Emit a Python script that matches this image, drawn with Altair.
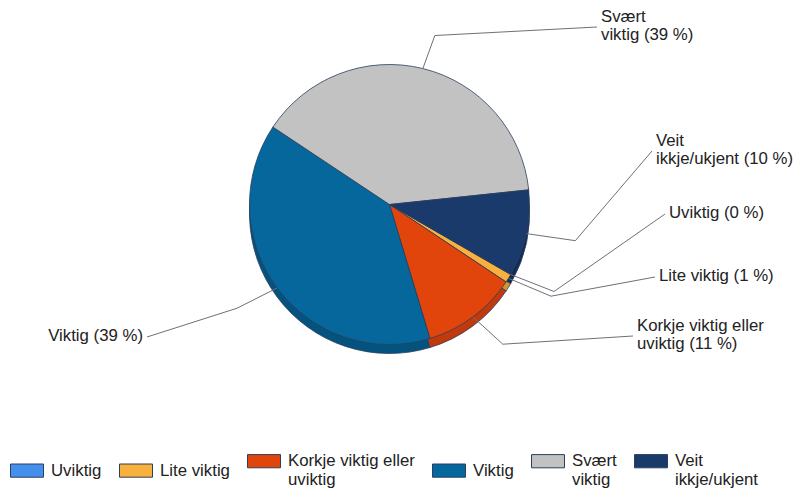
import altair as alt
import numpy as np
import pandas as pd

# ---- data (legend order) ----
categories = ["Uviktig", "Lite viktig", "Korkje viktig eller uviktig",
              "Viktig", "Svært viktig", "Veit ikkje/ukjent"]
percent = [0, 1, 11, 39, 39, 10]
legend_labels = ["Uviktig", "Lite viktig", "Korkje viktig eller\nuviktig",
                 "Viktig", "Svært\nviktig", "Veit\nikkje/ukjent"]
slice_labels = ["Uviktig (0 %)", "Lite viktig (1 %)",
                "Korkje viktig eller\nuviktig (11 %)", "Viktig (39 %)",
                "Svært\nviktig (39 %)", "Veit\nikkje/ukjent (10 %)"]

# ---- styles ----
colors = ["#4590ec", "#f8b13c", "#e2450c", "#05679b", "#c2c2c2", "#1a3a6c"]
side_colors = ["#3570c0", "#d4952c", "#c03a0c", "#04527e", "#9c9c9c", "#132c55"]

# ---- layout ----
CX, CY = 389.5, 204.5
R = 140
DEPTH = 9
START_DEG = 120.0
ELBOW_RX, ELBOW_RY = 190, 174
LINE_H = 18
label_anchor_x = [665, 655, 633, 147, 597, 652]
label_anchor_y = [214, 277, 336, 337, 27, 151]
label_side = ["right", "right", "right", "left", "right", "right"]

start_rad = np.deg2rad(START_DEG)

df = pd.DataFrame({
    "category": categories,
    "legend": legend_labels,
    "value": percent,
    "idx": list(range(len(categories))),
    "side": side_colors,
})

# leader lines computed from slice mid-angles
vals = np.array(percent, dtype=float)
cum = np.concatenate([[0.0], np.cumsum(vals)])
mid_deg = START_DEG + (cum[:-1] + vals / 2) * 360.0 / vals.sum()
rows = []
for i, cat in enumerate(categories):
    a = np.deg2rad(mid_deg[i])
    pts = [
        (CX + R * np.sin(a), CY - R * np.cos(a)),
        (CX + ELBOW_RX * np.sin(a), CY - ELBOW_RY * np.cos(a)),
        (label_anchor_x[i], label_anchor_y[i]),
    ]
    for k, (px, py) in enumerate(pts):
        rows.append({"name": cat, "k": k, "px": px, "py": py})
lines_df = pd.DataFrame(rows)

# first-line offset so that multi-line labels are centred on their anchor
nlines = [t.count("\n") + 1 for t in slice_labels]
labels_df = pd.DataFrame({
    "name": categories,
    "text": slice_labels,
    "lx": label_anchor_x,
    "ly": [y - 1 - (n - 1) * LINE_H / 2 for y, n in zip(label_anchor_y, nlines)],
    "lside": label_side,
})

theta_scale = alt.Scale(range=[start_rad, start_rad + 2 * np.pi])

side = alt.Chart(df).mark_arc(
    outerRadius=R, stroke="#2b3f5f", strokeWidth=0.8
).encode(
    theta=alt.Theta("value:Q", stack=True, scale=theta_scale),
    order=alt.Order("idx:Q"),
    fill=alt.Fill("side:N", scale=None),
    x=alt.value(CX), y=alt.value(CY + DEPTH),
)

top = alt.Chart(df).mark_arc(
    outerRadius=R, stroke="#2b3f5f", strokeWidth=0.8
).encode(
    theta=alt.Theta("value:Q", stack=True, scale=theta_scale),
    order=alt.Order("idx:Q"),
    fill=alt.Fill(
        "legend:N",
        scale=alt.Scale(domain=legend_labels, range=colors),
        sort=legend_labels,
        legend=alt.Legend(
            orient="none", legendX=10, legendY=444, direction="horizontal",
            title=None, columns=6, padding=0,
            labelExpr="split(datum.label, '\\n')",
            symbolType="M-1,-0.4H1V0.4H-1Z", symbolSize=1089,
            symbolStrokeColor="#7a7a7a", symbolStrokeWidth=1,
            labelFont="Liberation Sans", labelFontSize=16.8,
            labelColor="#222222", labelOffset=7, columnPadding=15,
            labelLimit=300,
        ),
    ),
    x=alt.value(CX), y=alt.value(CY),
)

leaders = alt.Chart(lines_df).mark_line(color="#6f6f7a", strokeWidth=1).encode(
    x=alt.X("px:Q", scale=None, axis=None),
    y=alt.Y("py:Q", scale=None, axis=None),
    detail="name:N",
    order="k:Q",
)

text_right = alt.Chart(labels_df).transform_filter(
    "datum.lside == 'right'"
).mark_text(
    align="left", baseline="middle", dx=4, lineBreak="\n",
    font="Liberation Sans", fontSize=16.8, lineHeight=LINE_H, color="#222222",
).encode(
    x=alt.X("lx:Q", scale=None, axis=None),
    y=alt.Y("ly:Q", scale=None, axis=None),
    text="text:N",
)

text_left = alt.Chart(labels_df).transform_filter(
    "datum.lside == 'left'"
).mark_text(
    align="right", baseline="middle", dx=-4, lineBreak="\n",
    font="Liberation Sans", fontSize=16.8, lineHeight=LINE_H, color="#222222",
).encode(
    x=alt.X("lx:Q", scale=None, axis=None),
    y=alt.Y("ly:Q", scale=None, axis=None),
    text="text:N",
)

chart = alt.layer(side, top, leaders, text_right, text_left).properties(
    width=796, height=493,
    autosize=alt.AutoSizeParams(type="none"),
    padding=0,
    background="white",
).configure_view(stroke=None)

chart.save("out.html", embed_options={"renderer": "svg", "actions": False})
